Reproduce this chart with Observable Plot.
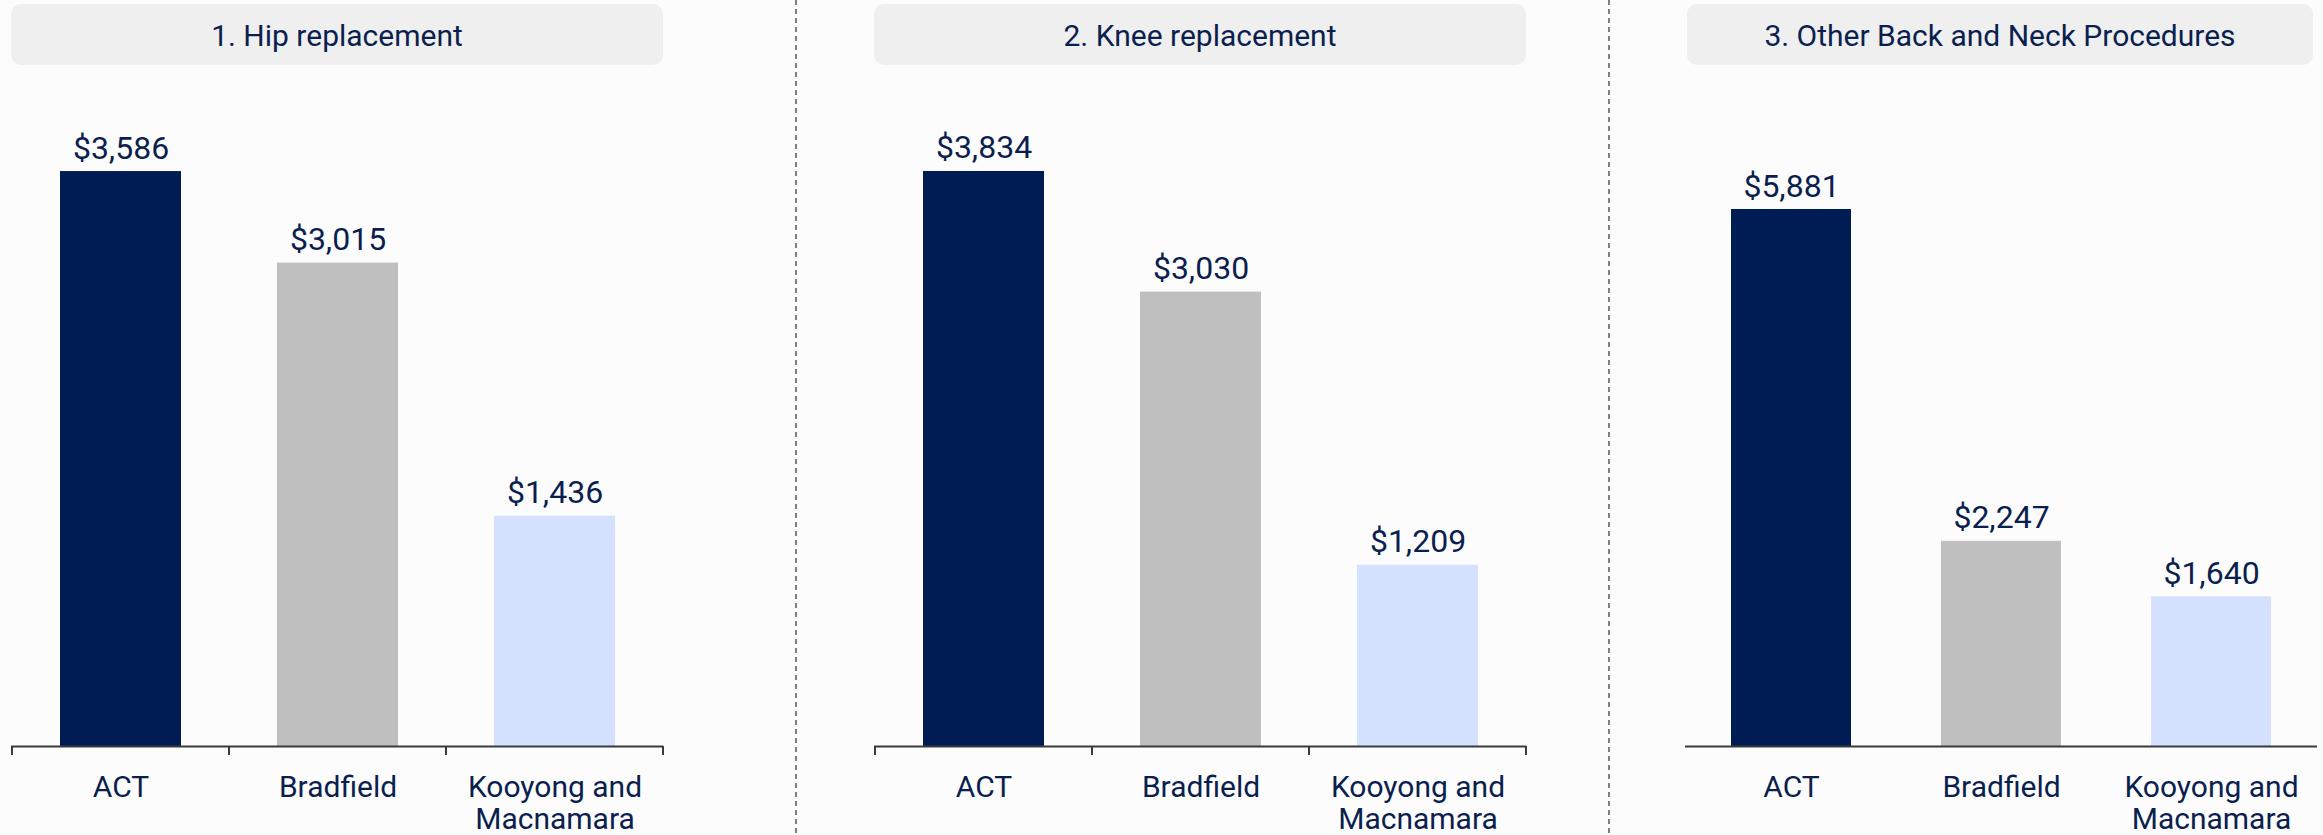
<!DOCTYPE html>
<html>
<head>
<meta charset="utf-8">
<script src="https://cdn.jsdelivr.net/npm/d3@7"></script>
<script src="https://cdn.jsdelivr.net/npm/@observablehq/plot@0.6"></script>
<style>
  html, body { margin: 0; padding: 0; background: #fcfcfc; }
  #chart { position: relative; width: 2323px; height: 835px; overflow: hidden; font-family: Roboto, "Noto Sans", sans-serif; }
  .hdr { position: absolute; top: 4px; height: 61px; background: #efefef; border-radius: 10px;
         display: flex; align-items: center; justify-content: center; font-size: 30px; color: #0b1f4f; box-sizing: border-box; padding-top: 1px; }
  .panel { position: absolute; top: 70px; }
  .sep { position: absolute; top: 0; }
</style>
</head>
<body>
<div id="chart"></div>
<script>
// ---- data ----
const procedures = ["1. Hip replacement", "2. Knee replacement", "3. Other Back and Neck Procedures"];
const regions = ["ACT", "Bradfield", "Kooyong and Macnamara"];
const hipCosts = [3586, 3015, 1436];
const kneeCosts = [3834, 3030, 1209];
const backNeckCosts = [5881, 2247, 1640];
const regionColors = ["#001c54", "#bfbfbf", "#d5e2ff"];

const seriesByPanel = [hipCosts, kneeCosts, backNeckCosts];

// ---- layout ----
const layout = [
  {left: 11,   right: 663,  hdrLeft: 11,   hdrRight: 663,  ticks: true,  pad: 0.444, yMax: 3998},
  {left: 874,  right: 1526, hdrLeft: 874,  hdrRight: 1526, ticks: true,  pad: 0.444, yMax: 4274},
  {left: 1685, right: 2317, hdrLeft: 1687, hdrRight: 2313, ticks: false, pad: 0.43,  yMax: 7020}
];
const separators = [796, 1609];
const navy = "#0b1f4f";
const axisColor = "#3a3a3a";

const chart = document.getElementById("chart");

function boundaryTicks(index, scales) {
  const x = scales.x, y = scales.y;
  const dom = x.domain();
  const bw = x.bandwidth();
  const step = x.step ? x.step() : bw;
  const gap = (step - bw) / 2;
  const xs = dom.map(c => x(c) - gap);
  xs.push(x(dom[dom.length - 1]) + bw + gap);
  const y0 = y(0);
  const g = d3.create("svg:g").attr("stroke", axisColor).attr("stroke-width", 2);
  g.selectAll("line").data(xs).join("line")
    .attr("x1", d => d).attr("x2", d => d)
    .attr("y1", y0).attr("y2", y0 + 9);
  return g.node();
}

procedures.forEach((title, p) => {
  const L = layout[p];
  const data = regions.map((r, i) => ({region: r, value: seriesByPanel[p][i]}));

  const hdr = document.createElement("div");
  hdr.className = "hdr";
  hdr.style.left = L.hdrLeft + "px";
  hdr.style.width = (L.hdrRight - L.hdrLeft) + "px";
  hdr.textContent = title;
  chart.appendChild(hdr);

  const W = L.right - L.left + 4;
  const plot = Plot.plot({
    width: W,
    height: 765,
    marginTop: 35,
    marginBottom: 89,
    marginLeft: 2,
    marginRight: 2,
    style: {background: "transparent", fontFamily: "Roboto, 'Noto Sans', sans-serif", color: navy, overflow: "visible"},
    x: {domain: regions, paddingInner: L.pad, paddingOuter: L.pad / 2},
    y: {domain: [0, L.yMax], axis: null},
    color: {domain: regions, range: regionColors},
    marks: [
      Plot.barY(data, {x: "region", y: "value", fill: "region"}),
      Plot.ruleY([0], {stroke: axisColor, strokeWidth: 2}),
      L.ticks ? boundaryTicks : null,
      Plot.text(data, {
        x: "region", y: "value",
        text: d => "$" + d3.format(",")(d.value),
        dy: -13, lineAnchor: "bottom", fontSize: 32, fill: navy
      }),
      Plot.axisX({
        tickSize: 0, tickPadding: 27.5, fontSize: 30, lineHeight: 1.07, label: null,
        fill: navy,
        tickFormat: d => d.replace(" and ", " and\n")
      })
    ]
  });
  const wrap = document.createElement("div");
  wrap.className = "panel";
  wrap.style.left = (L.left - 2) + "px";
  wrap.appendChild(plot);
  chart.appendChild(wrap);
});

separators.forEach(x => {
  const s = d3.create("svg").attr("class", "sep").attr("width", 4).attr("height", 835)
    .style("left", (x - 2) + "px");
  s.append("line").attr("x1", 2).attr("x2", 2).attr("y1", 0).attr("y2", 835)
    .attr("stroke", "#555").attr("stroke-width", 1.5).attr("stroke-dasharray", "5,4");
  chart.appendChild(s.node());
});
</script>
</body>
</html>
